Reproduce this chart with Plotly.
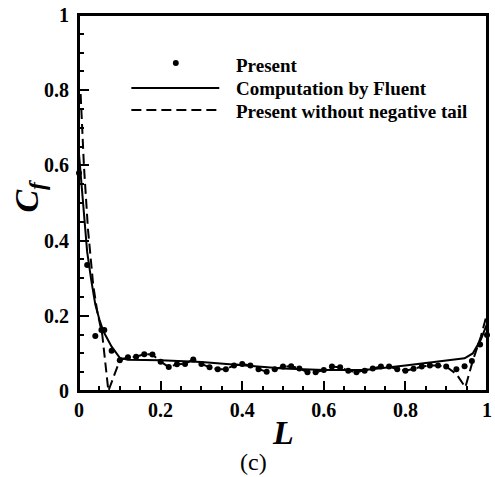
import plotly.graph_objects as go

# ---- data ----
present_L = [0.0, 0.02, 0.04, 0.055, 0.062, 0.08, 0.10, 0.12, 0.14, 0.16, 0.18, 0.20,
             0.22, 0.24, 0.26, 0.28, 0.30, 0.32, 0.34, 0.36, 0.38, 0.40, 0.42, 0.44,
             0.46, 0.48, 0.50, 0.52, 0.54, 0.56, 0.58, 0.60, 0.62, 0.64, 0.66, 0.68,
             0.70, 0.72, 0.74, 0.76, 0.78, 0.80, 0.82, 0.84, 0.86, 0.88, 0.90, 0.925,
             0.945, 0.963, 0.983, 1.0]
present_Cf = [0.58, 0.335, 0.146, 0.162, 0.162, 0.107, 0.082, 0.090, 0.091, 0.098, 0.097, 0.078,
              0.064, 0.071, 0.072, 0.084, 0.072, 0.063, 0.058, 0.058, 0.068, 0.072, 0.068, 0.058,
              0.051, 0.058, 0.065, 0.066, 0.060, 0.050, 0.050, 0.056, 0.065, 0.063, 0.054, 0.050,
              0.054, 0.060, 0.065, 0.065, 0.058, 0.054, 0.059, 0.065, 0.068, 0.068, 0.065, 0.058,
              0.066, 0.080, 0.124, 0.149]

fluent_L = [0.0, 0.01, 0.02, 0.03, 0.04, 0.05, 0.06, 0.08, 0.10, 0.12, 0.20, 0.30, 0.40,
            0.50, 0.60, 0.70, 0.80, 0.90, 0.945, 0.965, 0.985, 1.0]
fluent_Cf = [0.63, 0.50, 0.37, 0.295, 0.23, 0.19, 0.158, 0.118, 0.088, 0.083, 0.082, 0.077, 0.068,
             0.060, 0.056, 0.056, 0.068, 0.080, 0.087, 0.10, 0.137, 0.178]

notail_L = [0.004, 0.012, 0.022, 0.035, 0.045, 0.057, 0.072, 0.10, 0.12, 0.14, 0.16, 0.18, 0.20,
            0.22, 0.24, 0.26, 0.28, 0.30, 0.32, 0.34, 0.36, 0.38, 0.40, 0.42, 0.44,
            0.46, 0.48, 0.50, 0.52, 0.54, 0.56, 0.58, 0.60, 0.62, 0.64, 0.66, 0.68,
            0.70, 0.72, 0.74, 0.76, 0.78, 0.80, 0.82, 0.84, 0.86, 0.88, 0.90, 0.925,
            0.947, 0.965, 0.985, 1.0]
notail_Cf = [0.79, 0.60, 0.43, 0.28, 0.21, 0.15, 0.0, 0.082, 0.090, 0.091, 0.098, 0.097, 0.078,
             0.064, 0.071, 0.072, 0.084, 0.072, 0.063, 0.058, 0.058, 0.068, 0.072, 0.068, 0.058,
             0.051, 0.058, 0.065, 0.066, 0.060, 0.050, 0.050, 0.056, 0.065, 0.063, 0.054, 0.050,
             0.054, 0.060, 0.065, 0.065, 0.058, 0.054, 0.059, 0.065, 0.068, 0.068, 0.065, 0.045,
             0.010, 0.080, 0.145, 0.205]

tick_vals = [0, 0.2, 0.4, 0.6, 0.8, 1]
tick_text = ["0", "0.2", "0.4", "0.6", "0.8", "1"]
legend_names = ["Present", "Computation by Fluent", "Present without negative tail"]

SERIF = "Liberation Serif, Times New Roman, serif"

fig = go.Figure()
fig.add_trace(go.Scatter(x=fluent_L, y=fluent_Cf, mode="lines", name=legend_names[1],
                         line=dict(color="black", width=2), showlegend=False))
fig.add_trace(go.Scatter(x=notail_L, y=notail_Cf, mode="lines", name=legend_names[2],
                         line=dict(color="black", width=2, dash="10px,5px"), showlegend=False))
fig.add_trace(go.Scatter(x=present_L, y=present_Cf, mode="markers", name=legend_names[0],
                         marker=dict(color="black", size=6), cliponaxis=False, showlegend=False))

W, H = 495, 477
ml, mr, mt, mb = 79, 3, 15, 86
pw, ph = W - ml - mr, H - mt - mb


def px(x):  # page pixel -> paper x
    return (x - ml) / pw


def py(y):  # page pixel -> paper y
    return (H - mb - y) / ph


axis_common = dict(
    range=[0, 1], showgrid=False, zeroline=False, showline=True, mirror=True,
    linecolor="black", linewidth=2, ticks="inside", ticklen=10, tickwidth=2,
    tickcolor="black", tickvals=tick_vals, ticktext=tick_text,
    tickfont=dict(family=SERIF, size=20, color="black", weight="bold"),
    minor=dict(ticks="inside", ticklen=5, tickwidth=1.5, tickcolor="black", dtick=0.05),
)
fig.update_xaxes(**axis_common)
fig.update_yaxes(**axis_common, ticklabelstandoff=4)

# plot frame + legend drawn manually
shapes = [
    dict(type="rect", xref="paper", yref="paper", x0=0, x1=1, y0=0, y1=1,
         line=dict(color="black", width=2), fillcolor="rgba(0,0,0,0)", layer="above"),
    dict(type="line", xref="paper", yref="paper", x0=px(132), x1=px(221), y0=py(88), y1=py(88),
         line=dict(color="black", width=2)),
    dict(type="line", xref="paper", yref="paper", x0=px(132), x1=px(221), y0=py(110), y1=py(110),
         line=dict(color="black", width=2, dash="10px,5px")),
    dict(type="circle", xref="paper", yref="paper", x0=px(174), x1=px(180), y0=py(60), y1=py(66),
         fillcolor="black", line=dict(color="black", width=0)),
]
annotations = []
for name, yy in zip(legend_names, [65, 89, 111]):
    annotations.append(dict(text="<b>" + name + "</b>", xref="paper", yref="paper",
                            x=px(236), y=py(yy), xanchor="left", yanchor="middle",
                            showarrow=False, font=dict(family=SERIF, size=19, color="black")))
annotations.append(dict(text="<b><i>C<sub>f</sub></i></b>", xref="paper", yref="paper",
                        x=px(28), y=py(196), textangle=-90, xanchor="center", yanchor="middle",
                        showarrow=False, font=dict(family=SERIF, size=34, color="black")))
annotations.append(dict(text="<b><i>L</i></b>", xref="paper", yref="paper",
                        x=px(285), y=py(432), xanchor="center", yanchor="middle",
                        showarrow=False, font=dict(family=SERIF, size=34, color="black")))
annotations.append(dict(text="(c)", xref="paper", yref="paper",
                        x=px(256), y=py(462), xanchor="center", yanchor="middle",
                        showarrow=False, font=dict(family=SERIF, size=24, color="black")))

fig.update_layout(
    width=W, height=H, margin=dict(l=ml, r=mr, t=mt, b=mb),
    paper_bgcolor="white", plot_bgcolor="white",
    shapes=shapes, annotations=annotations, showlegend=False,
)

# remove the default 8px body margin so the figure fills the window exactly
fig.write_html("out.html", config={"displayModeBar": False},
               post_script="document.body.style.margin='0';document.body.style.overflow='hidden';")
